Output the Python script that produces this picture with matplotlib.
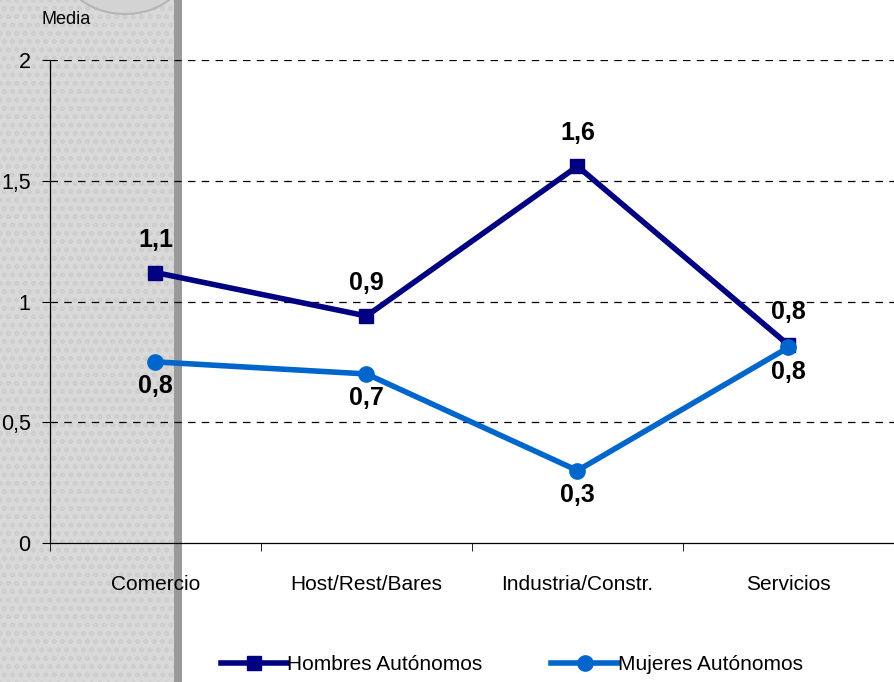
import numpy as np
import matplotlib.pyplot as plt
from matplotlib.patches import Rectangle, Ellipse
from matplotlib.lines import Line2D

# data
categorias = ["Comercio", "Host/Rest/Bares", "Industria/Constr.", "Servicios"]
hombres = [1.12, 0.94, 1.56, 0.82]
mujeres = [0.75, 0.70, 0.30, 0.81]
etiq_hombres = ["1,1", "0,9", "1,6", "0,8"]
etiq_mujeres = ["0,8", "0,7", "0,3", "0,8"]
yticks = [0, 0.5, 1, 1.5, 2]
ytick_labels = ["0", "0,5", "1", "1,5", "2"]

plt.rcParams['font.family'] = ['Liberation Sans Narrow', 'Liberation Sans', 'DejaVu Sans']

fig = plt.figure(figsize=(8.95, 6.82), dpi=100)

# grey decorative panel on the left
fig.patches.append(Rectangle((0, 0), 174 / 895, 1, transform=fig.transFigure,
                             facecolor='#d9d9d9', edgecolor='#cdcdcd', hatch='oo',
                             linewidth=0, zorder=-5))
fig.patches.append(Rectangle((174 / 895, 0), 8 / 895, 1, transform=fig.transFigure,
                             facecolor='#9a9a9a', edgecolor='none', zorder=-5))
fig.patches.append(Ellipse((125 / 895, 1 - (-30) / 682), 120 / 895, 88 / 682,
                           transform=fig.transFigure, facecolor='#d3d3d3',
                           edgecolor='#b5b5b5', linewidth=1.5, zorder=-4))

ax = fig.add_axes([50 / 895, 1 - 543 / 682, 844 / 895, 483 / 682])
ax.set_zorder(1)
ax.patch.set_alpha(0)

x = np.arange(len(categorias))
ax.plot(x, hombres, color='#000080', linewidth=4, marker='s', markersize=10,
        zorder=3)
ax.plot(x, mujeres, color='#0066cc', linewidth=4, marker='o', markersize=11,
        zorder=4)

for xi, v, t in zip(x, hombres, etiq_hombres):
    ax.annotate(t, (xi, v), xytext=(0, 15), textcoords='offset points',
                ha='center', va='bottom', fontsize=18, fontweight='bold')
for xi, v, t in zip(x, mujeres, etiq_mujeres):
    ax.annotate(t, (xi, v), xytext=(0, -9), textcoords='offset points',
                ha='center', va='top', fontsize=18, fontweight='bold')

ax.set_xlim(-0.5, 3.5)
ax.set_ylim(0, 2)
ax.set_yticks(yticks)
ax.set_yticklabels(ytick_labels, fontsize=15.5)
ax.set_xticks(x)
ax.set_xticklabels(categorias, fontsize=15)
ax.set_xticks(np.arange(-0.5, 4, 1), minor=True)
ax.tick_params(axis='x', which='major', length=0, pad=23)
ax.tick_params(axis='x', which='minor', length=6, direction='out')
ax.tick_params(axis='y', length=6, direction='out', pad=8)

for y in yticks[1:]:
    ax.axhline(y, color='black', linestyle=(0, (6, 5)), linewidth=0.9, zorder=1)

for s in ['top', 'right']:
    ax.spines[s].set_visible(False)
ax.spines['left'].set_linewidth(0.9)
ax.spines['bottom'].set_linewidth(0.9)

fig.text(42 / 895, 1 - 19 / 682, "Media", fontsize=13, va='center', ha='left')

handles = [
    Line2D([], [], color='#000080', linewidth=4, marker='s', markersize=10),
    Line2D([], [], color='#0066cc', linewidth=4, marker='o', markersize=11),
]
fig.legend(handles, ["Hombres Autónomos", "Mujeres Autónomos"], loc='center',
           bbox_to_anchor=(512 / 895, 1 - 665 / 682), ncol=2, frameon=False,
           fontsize=15, handlelength=3.2, handletextpad=0.0, columnspacing=3.3)

fig.savefig("out.png", dpi=100)
